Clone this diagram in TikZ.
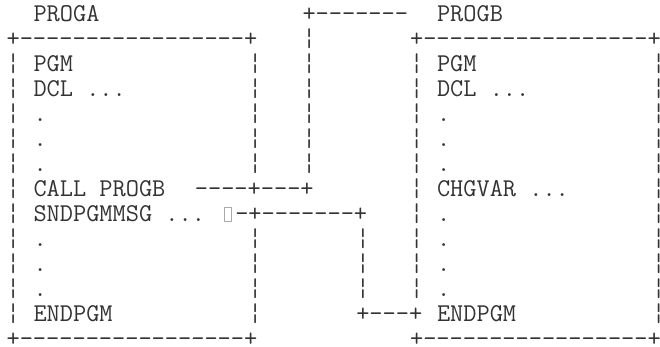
\documentclass[tikz,border=0pt]{standalone}
\usepackage{fontspec}
\usepackage{xcolor}
\definecolor{ink}{HTML}{333333}
\definecolor{tofugray}{HTML}{AAAAAA}
\newcommand{\listfont}{\fontsize{12.81pt}{12.5pt}\selectfont\ttfamily}

\begin{document}
\begin{tikzpicture}[
        x=6.725pt, y=-12.5pt,
        txt/.style={anchor=base west, inner sep=0pt, outer sep=0pt,
                    text=ink, font=\listfont},
        tofu/.style={anchor=south west, draw=tofugray, line width=0.4pt,
                     inner sep=0pt, minimum width=3.8pt, minimum height=7pt}
      ]
        \useasboundingbox (-0.4907,0.12) rectangle (48.58,14);

        % titles
        \node[txt] (titleA) at (2,1) {PROGA};
        \node[txt] (titleB) at (32,1) {PROGB};

        % box PROGA
        \node[txt] (topA) at (0,2) {+-----------------+};
        \node[txt] (botA) at (0,14) {+-----------------+};
        \foreach \r in {3,...,13} \node[txt] (lA\r) at (0,\r) {¦};
        \foreach \r in {3,...,7,10,11,12,13} \node[txt] (rA\r) at (18,\r) {¦};
        \node[txt] (pgmA) at (2,3) {PGM};
        \node[txt] (dclA) at (2,4) {DCL ...};
        \foreach \r in {5,6,7,10,11,12} \node[txt] (dotA\r) at (2,\r) {.};
        \node[txt] (callB) at (2,8) {CALL PROGB};
        \node[txt] (sndmsg) at (2,9) {SNDPGMMSG ...};
        \node[txt] (endA) at (2,13) {ENDPGM};

        % box PROGB
        \node[txt] (topB) at (30,2) {+-----------------+};
        \node[txt] (botB) at (30,14) {+-----------------+};
        \foreach \r in {3,...,12} \node[txt] (lB\r) at (30,\r) {¦};
        \foreach \r in {3,...,13} \node[txt] (rB\r) at (48,\r) {¦};
        \node[txt] (pgmB) at (32,3) {PGM};
        \node[txt] (dclB) at (32,4) {DCL ...};
        \foreach \r in {5,6,7,9,10,11,12} \node[txt] (dotB\r) at (32,\r) {.};
        \node[txt] (chgvar) at (32,8) {CHGVAR ...};
        \node[txt] (endB) at (32,13) {ENDPGM};

        % call into PROGB
        \node[txt] (callTop) at (22,1) {+-------};
        \foreach \r in {2,...,7} \node[txt] (callV\r) at (22,\r) {¦};
        \node[txt] (callRun) at (14,8) {----+---+};

        % message back
        \node[tofu] (tofu) at (16.15,9) {};
        \node[txt] (msgRun) at (17,9) {-+-------+};
        \foreach \r in {10,11,12} \node[txt] (msgV\r) at (26,\r) {¦};
        \node[txt] (msgEnd) at (26,13) {+---+};
      \end{tikzpicture}
\end{document}
